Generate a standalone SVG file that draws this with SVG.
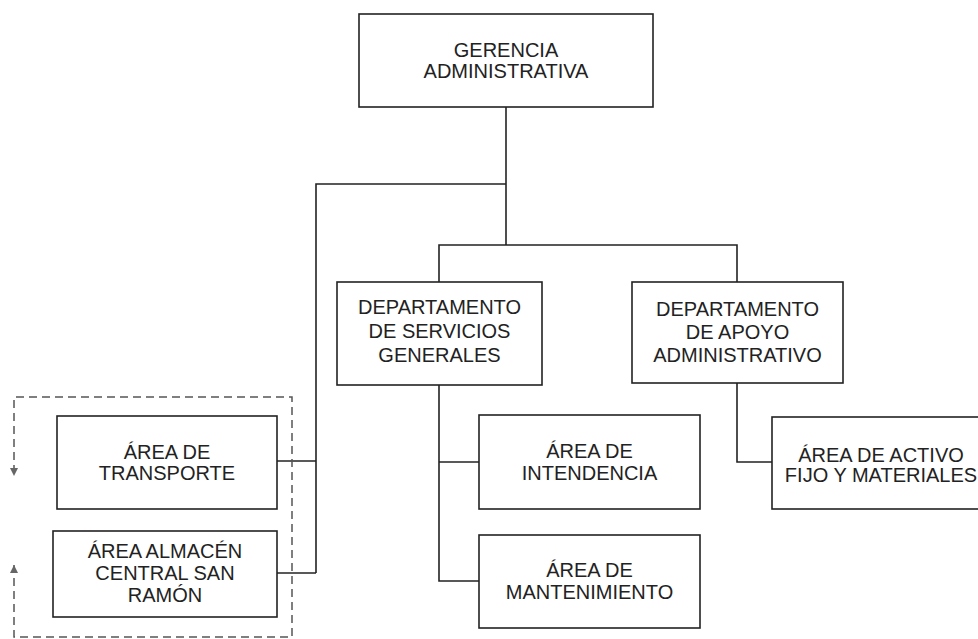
<svg xmlns="http://www.w3.org/2000/svg" width="978" height="639" viewBox="0 0 978 639">
<style>
.box{fill:#fff;stroke:#222;stroke-width:1.6}
.lbl{font-family:"Liberation Sans",Arial,Helvetica,sans-serif;font-size:20px;fill:#222;text-anchor:middle}
.con{fill:none;stroke:#222;stroke-width:1.6}
.dash{fill:none;stroke:#555;stroke-width:1.5;stroke-dasharray:8 5}
</style>
<defs>
<marker id="arr" viewBox="0 0 10 10" refX="10" refY="5" markerWidth="8" markerHeight="8" markerUnits="userSpaceOnUse" orient="auto-start-reverse">
<path d="M0,0 L10,5 L0,10 z" fill="#666"/>
</marker>
</defs>
<rect width="978" height="639" fill="#fff"/>
<g id="connectors">
<path class="con" d="M506,107 V245"/>
<path class="con" d="M506,184 H316 V573"/>
<path class="con" d="M277,461 H316"/>
<path class="con" d="M277,573 H316"/>
<path class="con" d="M439,282 V245 H737 V282"/>
<path class="con" d="M439,385 V581 H479"/>
<path class="con" d="M439,462 H479"/>
<path class="con" d="M737,383 V462 H772"/>
<path class="dash" d="M14,565 V637 H292 V397 H14 V476" marker-start="url(#arr)" marker-end="url(#arr)"/>
</g>
<g id="gerencia">
<rect class="box" x="359" y="14" width="294" height="93"/>
<text class="lbl" x="506" y="57">GERENCIA</text>
<text class="lbl" x="506" y="78">ADMINISTRATIVA</text>
</g>
<g id="dep-servicios">
<rect class="box" x="337" y="282" width="205" height="103"/>
<text class="lbl" x="439.5" y="314">DEPARTAMENTO</text>
<text class="lbl" x="439.5" y="338">DE SERVICIOS</text>
<text class="lbl" x="439.5" y="362">GENERALES</text>
</g>
<g id="dep-apoyo">
<rect class="box" x="632" y="282" width="211" height="101"/>
<text class="lbl" x="737.5" y="316">DEPARTAMENTO</text>
<text class="lbl" x="737.5" y="339">DE APOYO</text>
<text class="lbl" x="737.5" y="362">ADMINISTRATIVO</text>
</g>
<g id="area-transporte">
<rect class="box" x="57" y="416" width="220" height="93"/>
<text class="lbl" x="167" y="459">ÁREA DE</text>
<text class="lbl" x="167" y="480">TRANSPORTE</text>
</g>
<g id="area-almacen">
<rect class="box" x="53" y="531" width="224" height="86"/>
<text class="lbl" x="165" y="558">ÁREA ALMACÉN</text>
<text class="lbl" x="165" y="580">CENTRAL SAN</text>
<text class="lbl" x="165" y="602">RAMÓN</text>
</g>
<g id="area-intendencia">
<rect class="box" x="479" y="415" width="221" height="94"/>
<text class="lbl" x="589.5" y="458">ÁREA DE</text>
<text class="lbl" x="589.5" y="480">INTENDENCIA</text>
</g>
<g id="area-mantenimiento">
<rect class="box" x="479" y="535" width="221" height="93"/>
<text class="lbl" x="589.5" y="577">ÁREA DE</text>
<text class="lbl" x="589.5" y="599">MANTENIMIENTO</text>
</g>
<g id="area-activo">
<rect class="box" x="772" y="417" width="220" height="92"/>
<text class="lbl" x="881" y="462">ÁREA DE ACTIVO</text>
<text class="lbl" x="881" y="482">FIJO Y MATERIALES</text>
</g>
</svg>
